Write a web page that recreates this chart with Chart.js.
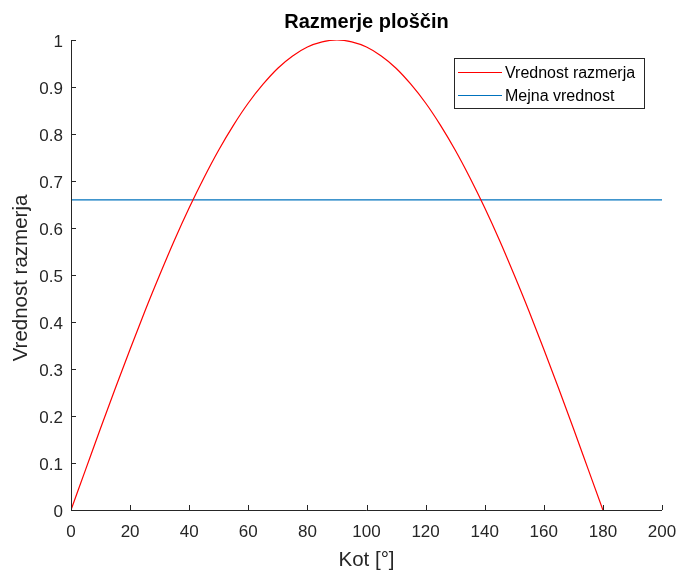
<!DOCTYPE html>
<html>
<head>
<meta charset="utf-8">
<script src="https://cdn.jsdelivr.net/npm/chart.js@4.4.1/dist/chart.umd.min.js"></script>
<style>
html,body{margin:0;padding:0;background:#fff;}
canvas{display:block;}
</style>
</head>
<body>
<canvas id="c" width="677" height="570"></canvas>
<script>
// Data
const angles = [0,5,10,15,20,25,30,35,40,45,50,55,60,65,70,75,80,85,90,95,100,105,110,115,120,125,130,135,140,145,150,155,160,165,170,175,180];
const ratio  = [0,0.087,0.174,0.259,0.342,0.423,0.5,0.574,0.643,0.707,0.766,0.819,0.866,0.906,0.94,0.966,0.985,0.996,1.0,0.996,0.985,0.966,0.94,0.906,0.866,0.819,0.766,0.707,0.643,0.574,0.5,0.423,0.342,0.259,0.174,0.087,0];
const limitX = [0,200];
const limitY = [0.66,0.66];
const xTicks = [0,20,40,60,80,100,120,140,160,180,200];
const yTicks = [0,0.1,0.2,0.3,0.4,0.5,0.6,0.7,0.8,0.9,1];
const seriesNames = ['Vrednost razmerja','Mejna vrednost'];
const titleText = 'Razmerje ploščin';
const xTitle = 'Kot [°]';
const yTitle = 'Vrednost razmerja';

const FONT = '"Liberation Sans", Arial, Helvetica, sans-serif';
const AX = '#262626';
const RED = '#ff0000';
const BLUE = '#0072bd';

const decor = {
  id: 'decor',
  afterDatasetsDraw(chart) {
    const ctx = chart.ctx;
    const a = chart.chartArea;
    const xs = chart.scales.x, ys = chart.scales.y;
    ctx.save();
    ctx.strokeStyle = AX;
    ctx.lineWidth = 1;
    // axis lines
    ctx.beginPath();
    ctx.moveTo(a.left + 0.5, a.top);
    ctx.lineTo(a.left + 0.5, a.bottom + 0.5);
    ctx.lineTo(a.right, a.bottom + 0.5);
    ctx.stroke();
    // inward ticks
    ctx.beginPath();
    xTicks.forEach(v => {
      const px = Math.round(xs.getPixelForValue(v)) + 0.5;
      ctx.moveTo(px, a.bottom);
      ctx.lineTo(px, a.bottom - 5);
    });
    yTicks.forEach(v => {
      const py = Math.round(ys.getPixelForValue(v)) + 0.5;
      ctx.moveTo(a.left, py);
      ctx.lineTo(a.left + 5, py);
    });
    ctx.stroke();
    // tick labels
    ctx.fillStyle = AX;
    ctx.font = '17px ' + FONT;
    ctx.textAlign = 'center';
    ctx.textBaseline = 'middle';
    xTicks.forEach(v => {
      ctx.fillText(String(v), xs.getPixelForValue(v), a.bottom + 22);
    });
    ctx.textAlign = 'right';
    yTicks.forEach(v => {
      ctx.fillText(String(v), a.left - 8, ys.getPixelForValue(v) + 2);
    });
    // title
    ctx.fillStyle = '#000';
    ctx.font = 'bold 20px ' + FONT;
    ctx.textAlign = 'center';
    ctx.fillText(titleText, (a.left + a.right) / 2, 22);
    // axis titles
    ctx.fillStyle = AX;
    ctx.font = '20.5px ' + FONT;
    ctx.fillText(xTitle, (a.left + a.right) / 2, 560);
    ctx.save();
    ctx.translate(21, 278);
    ctx.rotate(-Math.PI / 2);
    ctx.fillText(yTitle, 0, 0);
    ctx.restore();
    // legend
    ctx.fillStyle = '#fff';
    ctx.fillRect(454, 58, 190, 50);
    ctx.strokeStyle = AX;
    ctx.strokeRect(454.5, 58.5, 190, 50);
    const rows = [[seriesNames[0], RED, 72.5], [seriesNames[1], BLUE, 95.5]];
    ctx.font = '16px ' + FONT;
    ctx.textAlign = 'left';
    rows.forEach(r => {
      ctx.strokeStyle = r[1];
      ctx.beginPath();
      ctx.moveTo(458, r[2]);
      ctx.lineTo(502, r[2]);
      ctx.stroke();
      ctx.fillStyle = '#000';
      ctx.fillText(r[0], 505, r[2] + 1);
    });
    ctx.restore();
  }
};

new Chart(document.getElementById('c'), {
  type: 'line',
  data: {
    datasets: [
      {
        label: seriesNames[0],
        data: angles.map((x, i) => ({x: x, y: ratio[i]})),
        borderColor: RED,
        borderWidth: 1.2,
        pointRadius: 0,
        cubicInterpolationMode: 'monotone',
        fill: false
      },
      {
        label: seriesNames[1],
        data: limitX.map((x, i) => ({x: x, y: limitY[i]})),
        borderColor: BLUE,
        borderWidth: 1.2,
        pointRadius: 0,
        fill: false
      }
    ]
  },
  options: {
    responsive: false,
    animation: false,
    devicePixelRatio: 1,
    layout: {padding: {top: 40, right: 15, left: 0, bottom: 0}},
    plugins: {legend: {display: false}, title: {display: false}, tooltip: {enabled: false}},
    scales: {
      x: {
        type: 'linear', min: 0, max: 200,
        grid: {display: false, drawTicks: false},
        border: {display: false},
        ticks: {display: false},
        afterFit(s) { s.height = 60; }
      },
      y: {
        type: 'linear', min: 0, max: 1,
        grid: {display: false, drawTicks: false},
        border: {display: false},
        ticks: {display: false},
        afterFit(s) { s.width = 71; }
      }
    }
  },
  plugins: [decor]
});
</script>
</body>
</html>
